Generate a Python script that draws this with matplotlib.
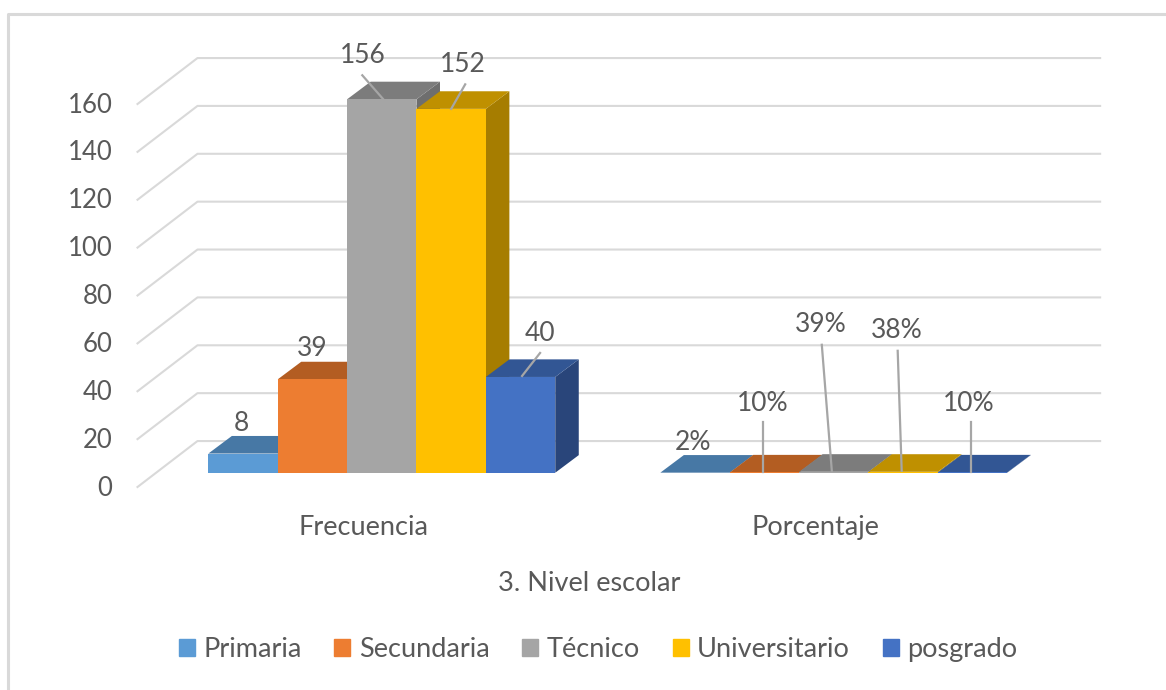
from __future__ import annotations

import matplotlib

matplotlib.use("Agg")
import matplotlib.pyplot as plt
from matplotlib.lines import Line2D
from matplotlib.patches import Patch
from matplotlib.transforms import IdentityTransform, ScaledTranslation

groups = ["Frecuencia", "Porcentaje"]
levels = ["Primaria", "Secundaria", "Técnico", "Universitario", "posgrado"]
frecuencia = [8, 39, 156, 152, 40]
porcentaje = [0.02, 0.10, 0.39, 0.38, 0.10]
frecuencia_labels = ["8", "39", "156", "152", "40"]
porcentaje_labels = ["2%", "10%", "39%", "38%", "10%"]
y_ticks = list(range(0, 161, 20))

front_colors = ["#5B9BD5", "#ED7D31", "#A5A5A5", "#FFC000", "#4472C4"]
top_colors = ["#4778A5", "#B35D22", "#7C7C7C", "#BF9000", "#325694"]
side_colors = ["#3E6A92", "#A0521E", "#6E6E6E", "#A67D00", "#29457A"]

WIDTH, HEIGHT = 1166, 690
GRID = "#D9D9D9"
TEXT = "#595959"
LEADER = "#A6A6A6"
TICK_SIZE = 18.5
LABEL_SIZE = 19
NAME_SIZE = 19.5

# depth of the fake 3d box, in data units
WALL_DX, WALL_DY = 0.1327, 19.2
BAR_DX, BAR_DY = 0.0405, 5.97
DEPTH_DX, DEPTH_DY = 0.052, 7.35
BAR_WIDTH = 0.1535

# pixel offsets from the top of each bar: label centre, leader start, leader end
frecuencia_text = [(-2, 30), (0, 31), (-19.5, 44), (12, 44), (19.5, 43)]
frecuencia_lead = [None, None, ((-19.5, 24), (1.5, 0)), ((14, 24.5), (0, 0)), ((19.5, 24), (1.5, 1))]
porcentaje_text = [(-2, 30), (-2, 69), (-13, 147), (-6.5, 141), (-4, 69)]
porcentaje_lead = [
    None,
    ((-1.5, 50), (-1.5, 0)),
    ((-12, 127), (-2, 1)),
    ((-5.5, 121), (-1.5, 1)),
    ((-2, 50), (-2, 0)),
]

plt.rcParams["font.family"] = ["Lato", "DejaVu Sans"]
figure = plt.figure(figsize=(WIDTH / 100, HEIGHT / 100), dpi=100)
axis = figure.add_axes(
    [137.5 / WIDTH, (HEIGHT - 487) / HEIGHT, 904 / WIDTH, 383 / HEIGHT]
)
axis.set_xlim(-0.5, 1.5)
axis.set_ylim(0, 160)
axis.patch.set_visible(False)
for spine in axis.spines.values():
    spine.set_visible(False)

for value in y_ticks:
    axis.plot(
        [-0.5, -0.5 + WALL_DX, 1.497 + WALL_DX],
        [value, value + WALL_DY, value + WALL_DY],
        color=GRID,
        lw=1.5,
        clip_on=False,
        zorder=1,
    )


def draw_group(center, values, labels, text_offsets, leads):
    for index, value in enumerate(values):
        left = center + (index - 2.5) * BAR_WIDTH + BAR_DX
        right = left + BAR_WIDTH
        base = BAR_DY
        top = value + BAR_DY
        zorder = 2 + index
        axis.fill(
            [right, right + DEPTH_DX, right + DEPTH_DX, right],
            [base, base + DEPTH_DY, top + DEPTH_DY, top],
            color=side_colors[index],
            lw=0,
            clip_on=False,
            zorder=zorder,
        )
        axis.fill(
            [left, right, right + DEPTH_DX, left + DEPTH_DX],
            [top, top, top + DEPTH_DY, top + DEPTH_DY],
            color=top_colors[index],
            lw=0,
            clip_on=False,
            zorder=zorder,
        )
        axis.fill(
            [left, right, right, left],
            [base, base, top, top],
            color=front_colors[index],
            lw=0,
            clip_on=False,
            zorder=zorder,
        )
        anchor = ((left + right) / 2, top)
        axis.annotate(
            labels[index],
            xy=anchor,
            xytext=text_offsets[index],
            textcoords="offset pixels",
            ha="center",
            va="center",
            color=TEXT,
            fontsize=LABEL_SIZE,
            annotation_clip=False,
            zorder=20,
        )
        if leads[index] is not None:
            (x0, y0), (x1, y1) = leads[index]
            px, py = axis.transData.transform(anchor)
            figure.add_artist(
                Line2D(
                    [px + x0, px + x1],
                    [py + y0, py + y1],
                    color=LEADER,
                    lw=1.6,
                    transform=IdentityTransform(),
                    zorder=10,
                )
            )


draw_group(0, frecuencia, frecuencia_labels, frecuencia_text, frecuencia_lead)
draw_group(1, porcentaje, porcentaje_labels, porcentaje_text, porcentaje_lead)

axis.set_yticks(y_ticks)
axis.set_xticks([0, 1])
axis.set_xticklabels(groups)
axis.tick_params(axis="y", length=0, pad=18, labelsize=TICK_SIZE, labelcolor=TEXT)
axis.tick_params(axis="x", length=0, pad=20, labelsize=NAME_SIZE, labelcolor=TEXT)
axis.set_xlabel("3. Nivel escolar", fontsize=NAME_SIZE, color=TEXT, labelpad=22.5)

# the y labels sit a little above their gridline ends
nudge = ScaledTranslation(0, 1 / 72, figure.dpi_scale_trans)
for label in axis.get_yticklabels():
    label.set_transform(label.get_transform() + nudge)

handles = [Patch(color=color, label=name) for color, name in zip(front_colors, levels)]
axis.legend(
    handles=handles,
    ncol=5,
    loc="center",
    bbox_to_anchor=(598 / WIDTH, (HEIGHT - 649.5) / HEIGHT),
    bbox_transform=figure.transFigure,
    frameon=False,
    fontsize=NAME_SIZE,
    labelcolor=TEXT,
    handlelength=0.59,
    handleheight=0.59,
    handletextpad=0.3,
    columnspacing=1.22,
    borderpad=0,
)

# chart frame, only the top and left edges are in the crop
figure.add_artist(
    Line2D(
        [7.5 / WIDTH, 7.5 / WIDTH, 1],
        [0, (HEIGHT - 13.5) / HEIGHT, (HEIGHT - 13.5) / HEIGHT],
        color=GRID,
        lw=2.2,
        transform=figure.transFigure,
    )
)

figure.savefig("out.png", dpi=100)
plt.close(figure)
